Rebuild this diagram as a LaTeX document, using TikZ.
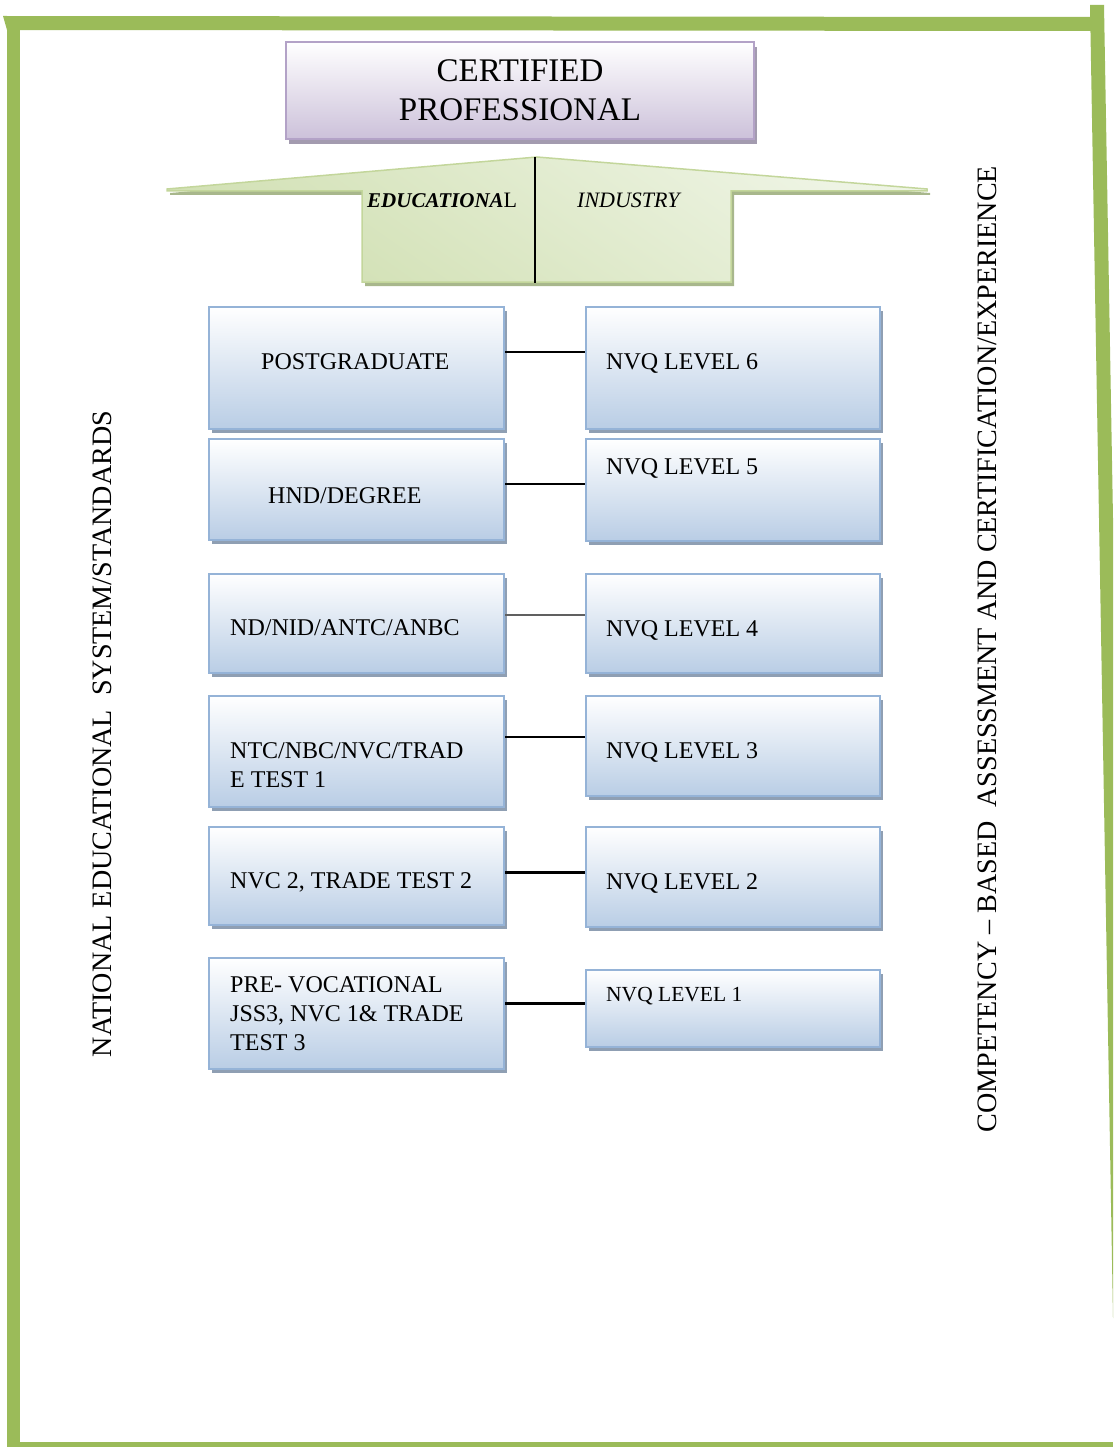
\documentclass[tikz,border=0pt]{standalone}
\usepackage{fontspec}
\setmainfont{Liberation Serif}
\definecolor{bordergreen}{HTML}{9BBB59}
\definecolor{boxblue}{HTML}{95B3D7}
\definecolor{boxbluebot}{HTML}{B9CDE5}
\definecolor{boxshadow}{HTML}{8F9FB3}
\definecolor{titleline}{HTML}{B3A2C7}
\definecolor{titlebot}{HTML}{CCC1DA}
\definecolor{titleshadow}{HTML}{A39BAF}
\definecolor{arrowline}{HTML}{C3D69B}
\definecolor{arrowdark}{HTML}{D1E0B3}
\definecolor{arrowlight}{HTML}{EEF4E4}
\definecolor{arrowshadow}{HTML}{A8B78C}
\definecolor{connGray}{HTML}{606060}
\begin{document}
\begin{tikzpicture}[x=1pt,y=-1pt,
  bluebox/.style={draw=boxblue, line width=2pt, top color=white, bottom color=boxbluebot,
    inner sep=0pt, anchor=north west,
    preaction={fill=boxshadow, transform canvas={xshift=3pt,yshift=-4pt}}},
  titlebox/.style={draw=titleline, line width=2pt, top color=white, bottom color=titlebot,
    inner sep=0pt, anchor=north west, align=center,
    font=\fontsize{33}{39}\selectfont,
    preaction={fill=titleshadow, transform canvas={xshift=3pt,yshift=-5pt}}},
  boxtext/.style={inner sep=0pt, anchor=base west, font=\fontsize{24}{29}\selectfont},
  boxtextml/.style={inner sep=0pt, anchor=north west, align=left, font=\fontsize{24}{29}\selectfont},
  conn/.style={draw=black, line width=2pt},
  sidetext/.style={rotate=90, inner sep=0pt, font=\fontsize{28.1}{30}\selectfont},
  armtext/.style={inner sep=0pt, anchor=base west, font=\fontsize{22}{26}\selectfont}
]
\useasboundingbox (0,0) rectangle (1113,1447);
\clip (0,0) rectangle (1113,1447);

% green frame
\fill[bordergreen] (3,16) -- (1092,17) -- (1092,31) -- (7,30) -- cycle;
\fill[bordergreen] (1090,5) -- (1104,5) -- (1127,1318) -- (1113,1318) -- cycle;
\fill[bordergreen] (7,16) rectangle (20,1447);
\fill[bordergreen] (7,1442) rectangle (1113,1447);

% title
\node[titlebox, minimum width=468pt, minimum height=97pt] (title) at (285,41)
  {CERTIFIED\\PROFESSIONAL};

% arrow shape
\coordinate (apex) at (535,157);
\coordinate (base) at (535,283);
\fill[arrowshadow] (170,193) -- (540,161) -- (930,193) -- (930,195) -- (734,195)
  -- (734,286) -- (365,286) -- (365,195) -- (170,195) -- cycle;
\draw[arrowline, line width=1.5pt, shading=axis, top color=arrowlight, bottom color=arrowdark, shading angle=-35]
  (167,189) -- (537,157) -- (927,189) -- (927,191) -- (731,191) -- (731,282)
  -- (362,282) -- (362,191) -- (167,191) -- cycle;
\draw[black, line width=1.5pt] (apex) -- (base);
\node[armtext] (edu) at (367,208) {\textbf{\textit{\fontsize{21}{26}\selectfont EDUCATIONA}}L};
\node[armtext] (ind) at (577,208) {\textit{INDUSTRY}};

% left column
\node[bluebox, minimum width=295pt, minimum height=122pt] (l1) at (208,306) {};
\node[bluebox, minimum width=295pt, minimum height=101pt] (l2) at (208,438) {};
\node[bluebox, minimum width=295pt, minimum height=99pt] (l3) at (208,573) {};
\node[bluebox, minimum width=295pt, minimum height=111pt] (l4) at (208,695) {};
\node[bluebox, minimum width=295pt, minimum height=98pt] (l5) at (208,826) {};
\node[bluebox, minimum width=295pt, minimum height=111pt] (l6) at (208,957) {};

% right column
\node[bluebox, minimum width=294pt, minimum height=122pt] (r1) at (585,306) {};
\node[bluebox, minimum width=294pt, minimum height=102pt] (r2) at (585,438) {};
\node[bluebox, minimum width=294pt, minimum height=99pt] (r3) at (585,573) {};
\node[bluebox, minimum width=294pt, minimum height=100pt] (r4) at (585,695) {};
\node[bluebox, minimum width=294pt, minimum height=100pt] (r5) at (585,826) {};
\node[bluebox, minimum width=294pt, minimum height=77pt] (r6) at (585,969) {};

% texts
\node[boxtext] (t1) at (261,369) {POSTGRADUATE};
\node[boxtext] (t2) at (268,503) {HND/DEGREE};
\node[boxtext] (t3) at (230,635) {ND/NID/ANTC/ANBC};
\node[boxtextml] (t4) at (230,742) {NTC/NBC/NVC/TRAD\\E TEST 1};
\node[boxtext] (t5) at (230,888) {NVC 2, TRADE TEST 2};
\node[boxtextml] (t6) at (230,976) {PRE- VOCATIONAL\\JSS3, NVC 1\& TRADE\\TEST 3};

\node[boxtext] (n6) at (606,369) {NVQ LEVEL 6};
\node[boxtext] (n5) at (606,474) {NVQ LEVEL 5};
\node[boxtext] (n4) at (606,636) {NVQ LEVEL 4};
\node[boxtext] (n3) at (606,758) {NVQ LEVEL 3};
\node[boxtext] (n2) at (606,889) {NVQ LEVEL 2};
\node[boxtext, font=\fontsize{21.5}{26}\selectfont] (n1) at (606,1001) {NVQ LEVEL 1};

% connectors
\draw[conn] (l1.east |- 0,352) -- (r1.west |- 0,352);
\draw[conn] (l2.east |- 0,484) -- (r2.west |- 0,484);
\draw[conn, draw=connGray, line width=2.5pt] (l3.east |- 0,615) -- (r3.west |- 0,615);
\draw[conn] (l4.east |- 0,737) -- (r4.west |- 0,737);
\draw[conn, line width=3pt] (l5.east |- 0,872) -- (r5.west |- 0,872);
\draw[conn, line width=3pt] (l6.east |- 0,1003) -- (r6.west |- 0,1003);

% side texts
\node[sidetext] (lside) at (102,734) {NATIONAL EDUCATIONAL~ SYSTEM/STANDARDS};
\node[sidetext] (rside) at (987,649) {COMPETENCY – BASED~ ASSESSMENT AND CERTIFICATION/EXPERIENCE};
\end{tikzpicture}
\end{document}
